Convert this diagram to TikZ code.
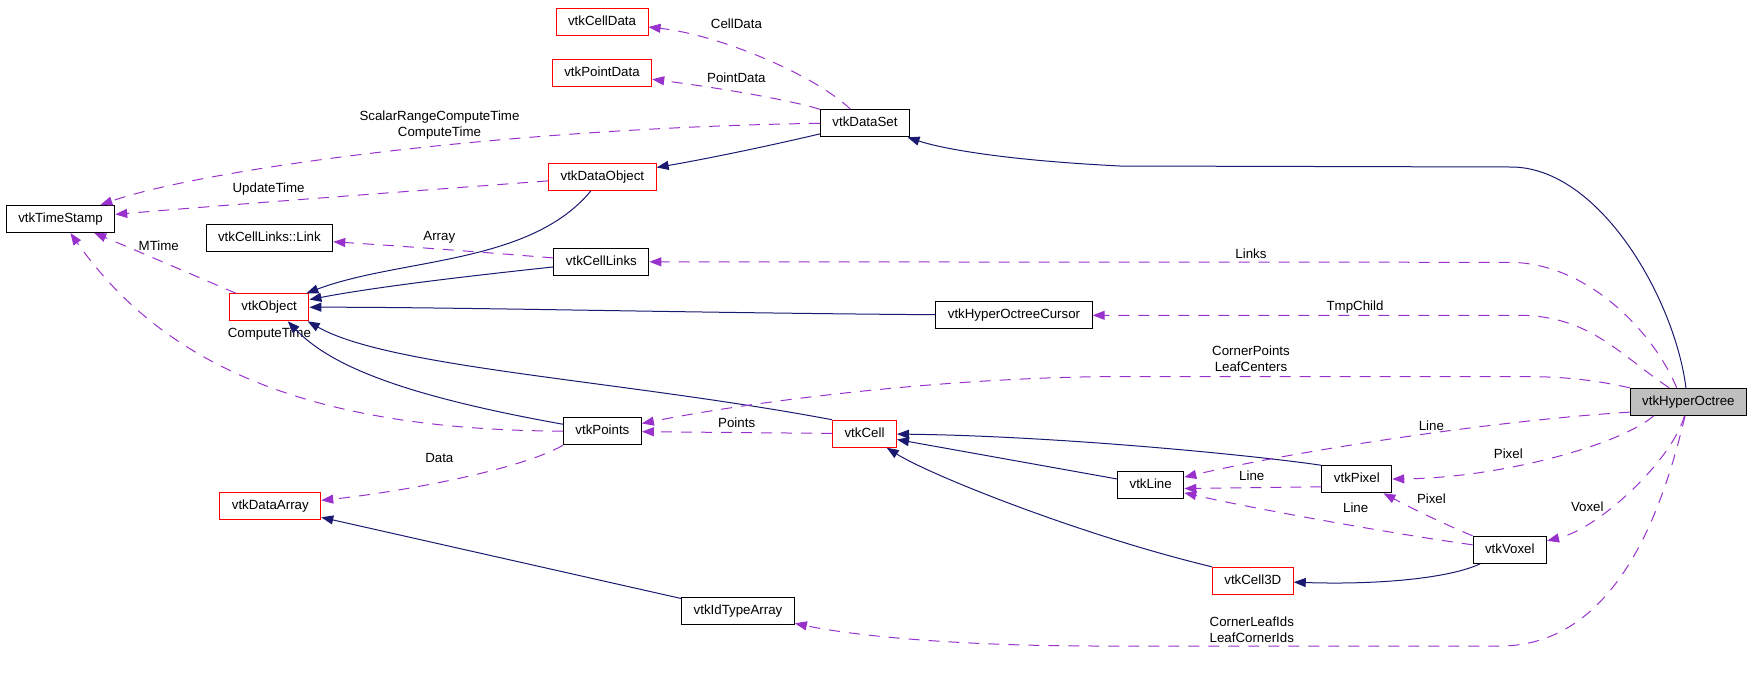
\documentclass[tikz,border=0pt]{standalone}
\usepackage{fontspec}
\setmainfont{Liberation Sans}
\usetikzlibrary{arrows.meta}
\definecolor{inhcol}{RGB}{25,25,112}
\definecolor{usecol}{RGB}{153,50,204}

\begin{document}
\begin{tikzpicture}[x=1pt,y=-1pt,font=\fontsize{13.3}{16}\selectfont,
  cls/.style={draw=black,line width=1pt,minimum height=27pt,inner xsep=12pt,inner ysep=0pt,text height=9.7pt,text depth=2.8pt},
  redcls/.style={cls,draw=red},
  hilite/.style={cls,fill=black!25},
  lbl/.style={inner sep=0pt,align=center},
  inherit/.style={draw=inhcol,line width=1pt,-{Triangle[length=12pt,width=9pt]}},
  usage/.style={draw=usecol,line width=1pt,dash pattern=on 11pt off 9pt,-{Triangle[length=12pt,width=9pt]}}]
\useasboundingbox (0,0) rectangle (1752,675);

\node[cls]    (ts)     at (60.5,219)    {vtkTimeStamp};
\node[cls]    (link)   at (269.4,237.7) {vtkCellLinks::Link};
\node[redcls] (obj)    at (269.2,307.3) {vtkObject};
\node[redcls] (cdata)  at (602,21.8)    {vtkCellData};
\node[redcls] (pdata)  at (602,72.8)    {vtkPointData};
\node[cls]    (ds)     at (865,123.3)   {vtkDataSet};
\node[redcls] (dobj)   at (602.4,176.8) {vtkDataObject};
\node[cls]    (cl)     at (601.4,261.8) {vtkCellLinks};
\node[cls]    (cursor) at (1014,315.3)  {vtkHyperOctreeCursor};
\node[hilite] (hyper)  at (1688.4,401.8) {vtkHyperOctree};
\node[cls]    (pts)    at (602.4,431.3) {vtkPoints};
\node[redcls] (cell)   at (864.5,433.7) {vtkCell};
\node[redcls] (darr)   at (270.3,505.8) {vtkDataArray};
\node[cls]    (idarr)  at (738,611.3)   {vtkIdTypeArray};
\node[cls]    (line)   at (1150.7,485)  {vtkLine};
\node[cls]    (pixel)  at (1356.8,479.3) {vtkPixel};
\node[cls]    (voxel)  at (1509.8,549.8) {vtkVoxel};
\node[redcls] (c3d)    at (1252.8,580.8) {vtkCell3D};

\node[lbl] (lcd)  at (736.4,23.3)   {CellData};
\node[lbl] (lpd)  at (736.4,77.7)   {PointData};
\node[lbl] (lsr)  at (439.5,125.3)  {ScalarRangeComputeTime\\ComputeTime};
\node[lbl] (lut)  at (268.6,189.3)  {UpdateTime};
\node[lbl] (lar)  at (439.3,237.7)  {Array};
\node[lbl] (lmt)  at (158.8,245.7)  {MTime};
\node[lbl] (lct)  at (269.4,334.3)  {ComputeTime};
\node[lbl] (llk)  at (1251,253.3)   {Links};
\node[lbl] (ltc)  at (1355,306.7)   {TmpChild};
\node[lbl] (lda)  at (439.3,457.7)  {Data};
\node[lbl] (lpt)  at (736.7,422.7)  {Points};
\node[lbl] (lcp)  at (1251,358.7)   {CornerPoints\\LeafCenters};
\node[lbl] (lln1) at (1431.4,426)   {Line};
\node[lbl] (lpx1) at (1508.3,454)   {Pixel};
\node[lbl] (lln2) at (1251.8,475.7) {Line};
\node[lbl] (lpx2) at (1431.4,498.7) {Pixel};
\node[lbl] (lln3) at (1355.7,507.7) {Line};
\node[lbl] (lvx)  at (1587.3,506.7) {Voxel};
\node[lbl] (lci)  at (1251.8,629.5) {CornerLeafIds\\LeafCornerIds};

% base classes
\draw[inherit] (ds) .. controls (760,148) and (700,160) .. (dobj);
\draw[inherit] (hyper.100) .. controls (1675,300) and (1600,167) .. (1511,167) -- (1120,166)
               .. controls (1000,160) and (940,148) .. (ds);
\draw[inherit] (dobj) .. controls (530,265) and (400,258) .. (obj);
\draw[inherit] (cl) .. controls (450,278) and (370,288) .. (obj);
\draw[inherit] (cursor) .. controls (700,313) and (450,307) .. (obj);
\draw[inherit] (pts) .. controls (400,395) and (330,365) .. (obj.-37);
\draw[inherit] (cell.north west) .. controls (620,380) and (390,368) .. (obj.-20);
\draw[inherit] (idarr) -- (darr);
\draw[inherit] (pixel.north west) .. controls (1260,456) and (1060,436) .. (cell);
\draw[inherit] (line) -- (cell);
\draw[inherit] (c3d.north west) .. controls (1080,535) and (930,475) .. (cell);
\draw[inherit] (voxel) .. controls (1450,578) and (1380,585) .. (c3d);

% members
\draw[usage] (ds) .. controls (815,75) and (720,35) .. (cdata);
\draw[usage] (ds) .. controls (790,100) and (720,88) .. (pdata);
\draw[usage] (ds.west) .. controls (500,128) and (200,170) .. (ts);
\draw[usage] (dobj) .. controls (400,192) and (250,203) .. (ts);
\draw[usage] (cl) .. controls (480,252) and (400,246) .. (link);
\draw[usage] (obj) .. controls (200,278) and (140,252) .. (ts);
\draw[usage] (pts) .. controls (300,430) and (160,360) .. (ts);
\draw[usage] (pts.south west) .. controls (520,470) and (400,492) .. (darr);
\draw[usage] (cell) -- (pts);
\draw[usage] (hyper.north west) .. controls (1590,379) and (1560,376.5) .. (1520,376.5) -- (1120,376.5)
             .. controls (950,377) and (760,400) .. (pts);
\draw[usage] (hyper.130) .. controls (1655,335) and (1590,263) .. (1510,262.3) -- (cl);
\draw[usage] (hyper.144) .. controls (1620,355) and (1590,316) .. (1520,315.3) -- (cursor);
\draw[usage] (hyper.190) .. controls (1500,420) and (1300,450) .. (line);
\draw[usage] (hyper.202) .. controls (1620,445) and (1500,478) .. (pixel);
\draw[usage] (hyper) .. controls (1672,460) and (1600,528) .. (voxel);
\draw[usage] (hyper) .. controls (1665,500) and (1620,646) .. (1500,646) -- (1100,646)
             .. controls (950,646) and (850,635) .. (idarr);
\draw[usage] (pixel.192) -- (line.-6);
\draw[usage] (voxel) .. controls (1400,535) and (1250,508) .. (line);
\draw[usage] (voxel.north west) .. controls (1430,518) and (1400,502) .. (pixel);
\end{tikzpicture}
\end{document}
